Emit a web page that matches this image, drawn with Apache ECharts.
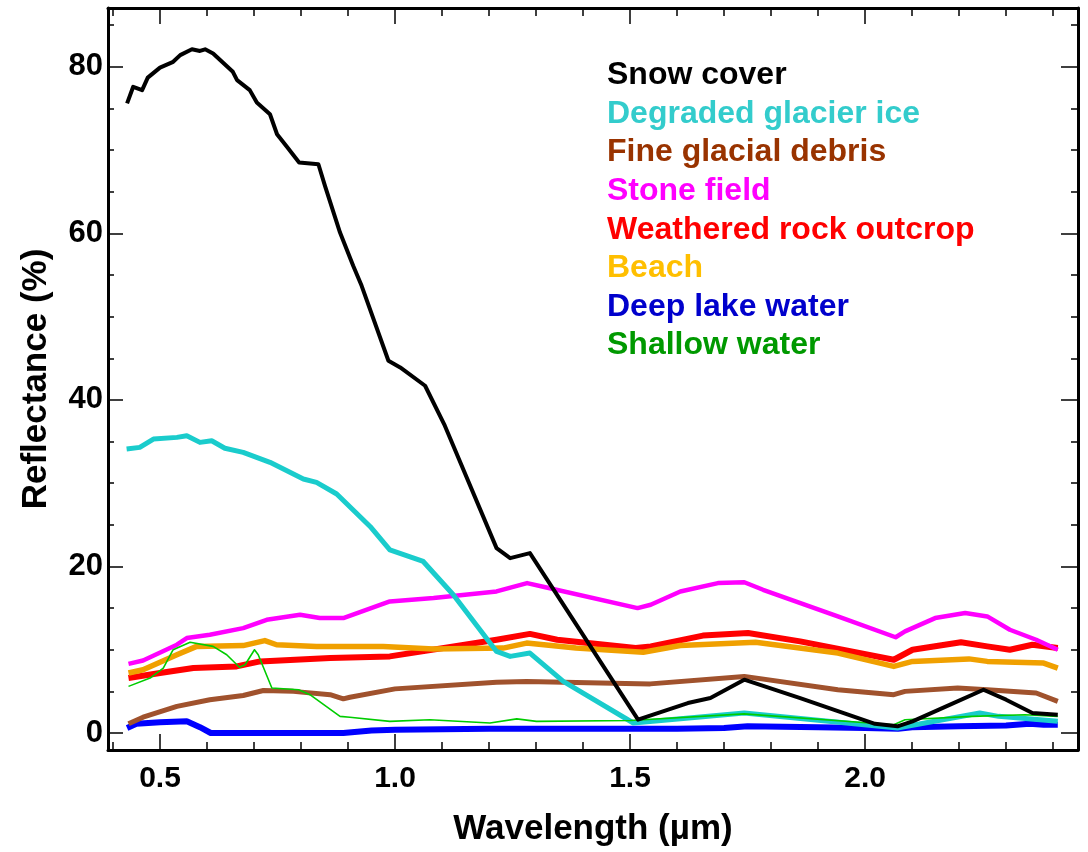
<!DOCTYPE html>
<html>
<head>
<meta charset="utf-8">
<script src="https://cdn.jsdelivr.net/npm/echarts@6/dist/echarts.min.js"></script>
<style>
html,body{margin:0;padding:0;background:#fff;}
#c{width:1088px;height:852px;}
</style>
</head>
<body>
<div id="c"></div>
<script>
// Data: [wavelength (µm), reflectance (%)]
var snowCover = [[0.430,75.6],[0.443,77.6],[0.462,77.2],[0.474,78.7],[0.5,79.9],[0.528,80.6],[0.543,81.4],[0.568,82.1],[0.585,81.9],[0.596,82.1],[0.613,81.6],[0.655,79.4],[0.664,78.4],[0.691,77.2],[0.706,75.7],[0.734,74.3],[0.749,71.9],[0.770,70.4],[0.796,68.5],[0.837,68.3],[0.851,65.7],[0.883,60.1],[0.911,56.1],[0.929,53.7],[0.986,44.7],[1.011,43.9],[1.064,41.7],[1.106,36.9],[1.216,22.2],[1.245,21.0],[1.287,21.6],[1.517,1.6],[1.623,3.6],[1.671,4.2],[1.743,6.4],[1.862,4.2],[2.021,1.1],[2.069,0.8],[2.101,1.4],[2.181,3.4],[2.252,5.2],[2.300,4.0],[2.356,2.4],[2.410,2.2]];
var glacierIce = [[0.429,34.1],[0.457,34.3],[0.486,35.3],[0.536,35.5],[0.557,35.7],[0.585,34.9],[0.610,35.1],[0.638,34.2],[0.677,33.7],[0.734,32.5],[0.805,30.5],[0.833,30.1],[0.876,28.7],[0.947,24.8],[0.989,22.0],[1.060,20.6],[1.124,16.6],[1.216,9.8],[1.245,9.2],[1.287,9.6],[1.358,6.2],[1.507,1.2],[1.743,2.4],[2.069,0.6],[2.244,2.4],[2.284,2.0],[2.410,1.4]];
var glacialDebris = [[0.433,1.1],[0.464,1.9],[0.536,3.2],[0.606,4.0],[0.677,4.5],[0.720,5.1],[0.784,5.0],[0.862,4.6],[0.890,4.1],[0.904,4.3],[1.000,5.3],[1.216,6.1],[1.280,6.2],[1.543,5.9],[1.743,6.8],[1.942,5.2],[2.061,4.6],[2.085,5.0],[2.197,5.4],[2.260,5.2],[2.364,4.8],[2.410,3.8]];
var stoneField = [[0.433,8.3],[0.464,8.7],[0.536,10.6],[0.557,11.4],[0.606,11.8],[0.677,12.6],[0.727,13.6],[0.798,14.2],[0.840,13.8],[0.890,13.8],[0.989,15.8],[1.082,16.2],[1.216,17.0],[1.281,18.0],[1.320,17.5],[1.516,15.0],[1.544,15.4],[1.607,17.0],[1.687,18.0],[1.743,18.1],[1.783,17.2],[1.942,14.0],[2.065,11.5],[2.085,12.2],[2.149,13.8],[2.213,14.4],[2.260,14.0],[2.308,12.4],[2.364,11.2],[2.410,10.0]];
var rockOutcrop = [[0.433,6.6],[0.500,7.2],[0.571,7.8],[0.663,8.0],[0.713,8.6],[0.862,9.0],[0.989,9.2],[1.216,11.2],[1.287,11.9],[1.345,11.2],[1.512,10.2],[1.544,10.4],[1.655,11.7],[1.751,12.0],[1.862,11.0],[2.061,8.8],[2.101,10.0],[2.204,10.9],[2.260,10.4],[2.308,10.0],[2.356,10.6],[2.410,10.2]];
var beach = [[0.433,7.2],[0.464,7.6],[0.536,9.4],[0.578,10.4],[0.677,10.5],[0.723,11.1],[0.748,10.6],[0.833,10.4],[0.975,10.4],[1.082,10.1],[1.230,10.2],[1.280,10.8],[1.385,10.2],[1.528,9.7],[1.607,10.5],[1.767,10.9],[1.942,9.6],[2.061,8.0],[2.101,8.6],[2.221,8.9],[2.260,8.6],[2.380,8.4],[2.410,7.8]];
var deepLake = [[0.430,0.6],[0.450,1.1],[0.500,1.3],[0.557,1.4],[0.585,0.7],[0.608,0.0],[0.700,0.0],[0.800,0.0],[0.890,0.0],[0.950,0.3],[1.000,0.4],[1.200,0.5],[1.400,0.5],[1.600,0.5],[1.700,0.6],[1.750,0.8],[1.900,0.7],[2.000,0.6],[2.070,0.5],[2.100,0.7],[2.200,0.8],[2.300,0.9],[2.350,1.1],[2.380,1.0],[2.410,1.0]];
var shallowWater = [[0.433,5.6],[0.479,6.6],[0.507,7.8],[0.528,10.0],[0.564,10.9],[0.613,10.4],[0.642,9.4],[0.669,7.9],[0.681,8.2],[0.701,10.0],[0.709,9.4],[0.738,5.4],[0.795,5.2],[0.819,4.6],[0.883,2.0],[0.904,1.9],[0.989,1.4],[1.074,1.6],[1.202,1.2],[1.259,1.7],[1.301,1.4],[1.500,1.5],[1.743,2.3],[2.061,1.0],[2.085,1.6],[2.228,2.0],[2.340,2.2],[2.410,2.0]];

var seriesNames = ['Snow cover','Degraded glacier ice','Fine glacial debris','Stone field','Weathered rock outcrop','Beach','Deep lake water','Shallow water'];
var xMajorTicks = [0.5,1.0,1.5,2.0];
var xMinorTicks = [0.4,0.6,0.7,0.8,0.9,1.1,1.2,1.3,1.4,1.6,1.7,1.8,1.9,2.1,2.2,2.3,2.4];
var yMajorTicks = [0,20,40,60,80];
var yMinorTicks = [5,10,15,25,30,35,45,50,55,65,70,75,85];

var lineColors = {'Snow cover':'#000000','Degraded glacier ice':'#1ACCCC','Fine glacial debris':'#A0522D','Stone field':'#FF00FF','Weathered rock outcrop':'#FF0000','Beach':'#F0A000','Deep lake water':'#0000FF','Shallow water':'#00CC00'};
var textColors = {'Snow cover':'#000000','Degraded glacier ice':'#33CCCC','Fine glacial debris':'#993300','Stone field':'#FF00FF','Weathered rock outcrop':'#FF0000','Beach':'#FFBF00','Deep lake water':'#0000CC','Shallow water':'#009900'};
var lineWidths = {'Snow cover':4,'Degraded glacier ice':5,'Fine glacial debris':5,'Stone field':4.5,'Weathered rock outcrop':6,'Beach':5.5,'Deep lake water':6,'Shallow water':1.6};
var dataMap = {'Snow cover':snowCover,'Degraded glacier ice':glacierIce,'Fine glacial debris':glacialDebris,'Stone field':stoneField,'Weathered rock outcrop':rockOutcrop,'Beach':beach,'Deep lake water':deepLake,'Shallow water':shallowWater};
var drawOrder = ['Deep lake water','Fine glacial debris','Weathered rock outcrop','Beach','Stone field','Degraded glacier ice','Shallow water','Snow cover'];

var FONT = '"Liberation Sans", Arial, sans-serif';
var XMIN = 0.3894, XMAX = 2.453, YMIN = -2.04, YMAX = 87.06;

function xAx(pos, ticks, len, labels, line) {
  return {
    type:'value', position:pos, min:XMIN, max:XMAX, gridIndex:0,
    splitLine:{show:false},
    axisLine:{show:line, onZero:false, lineStyle:{color:'#000', width:3}},
    axisTick:{show:true, inside:true, length:len, customValues:ticks, lineStyle:{color:'#000', width:1.5}},
    axisLabel: labels ? {show:true, customValues:ticks, margin:14, color:'#000', fontFamily:FONT, fontWeight:'bold', fontSize:30, formatter:function(v){return v.toFixed(1);}} : {show:false},
    name: labels ? 'Wavelength (µm)' : '',
    nameLocation:'middle', nameGap:62,
    nameTextStyle:{color:'#000', fontFamily:FONT, fontWeight:'bold', fontSize:35}
  };
}
function yAx(pos, ticks, len, labels, line) {
  return {
    type:'value', position:pos, min:YMIN, max:YMAX, gridIndex:0,
    splitLine:{show:false},
    axisLine:{show:line, onZero:false, lineStyle:{color:'#000', width:3}},
    axisTick:{show:true, inside:true, length:len, customValues:ticks, lineStyle:{color:'#000', width:1.5}},
    axisLabel: labels ? {show:true, customValues:ticks, margin:5, color:'#000', fontFamily:FONT, fontWeight:'bold', fontSize:31, formatter:function(v){return String(v);}} : {show:false},
    name: labels ? 'Reflectance (%)' : '',
    nameLocation:'middle', nameGap:54,
    nameTextStyle:{color:'#000', fontFamily:FONT, fontWeight:'bold', fontSize:35}
  };
}

var chart = echarts.init(document.getElementById('c'), null, {renderer:'canvas'});
var option = {
  animation:false,
  backgroundColor:'#fff',
  grid:{left:108, right:10, top:8, bottom:100, containLabel:false},
  xAxis:[
    xAx('bottom', xMajorTicks, 16, true, true),
    xAx('bottom', xMinorTicks, 8, false, false),
    xAx('top', xMajorTicks, 16, false, true),
    xAx('top', xMinorTicks, 8, false, false)
  ],
  yAxis:[
    yAx('left', yMajorTicks, 15, true, true),
    yAx('left', yMinorTicks, 6, false, false),
    yAx('right', yMajorTicks, 17, false, true),
    yAx('right', yMinorTicks, 7, false, false)
  ],
  legend:{
    orient:'vertical', left:602, top:56, padding:0, itemGap:0,
    itemWidth:0, itemHeight:0, icon:'none', selectedMode:false,
    textStyle:{fontFamily:FONT, fontWeight:'bold', fontSize:32, lineHeight:38.6, padding:0},
    data: seriesNames.map(function(n){ return {name:n, icon:'none', textStyle:{color:textColors[n]}}; })
  },
  series: drawOrder.map(function(n){
    return {
      name:n, type:'line', xAxisIndex:0, yAxisIndex:0,
      data:dataMap[n], showSymbol:false, symbol:'none',
      lineStyle:{color:lineColors[n], width:lineWidths[n], join:'round'},
      itemStyle:{color:lineColors[n]},
      emphasis:{disabled:true}, z:2
    };
  })
};
chart.setOption(option);
</script>
</body>
</html>
